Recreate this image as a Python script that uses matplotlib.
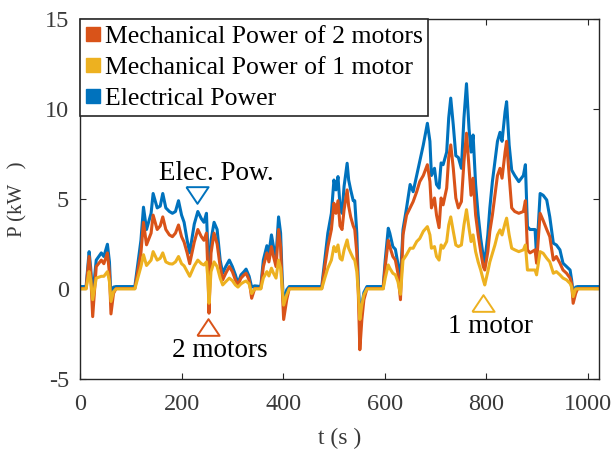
import matplotlib
matplotlib.use("Agg")
import matplotlib.pyplot as plt
from matplotlib.lines import Line2D

# ---------------- data ----------------
t_s = [0, 12, 18, 21, 25, 32, 42, 47, 54, 58,
       61, 66, 71, 108, 120, 125, 131, 140, 144, 152,
       158, 163, 169, 176, 182, 188, 194, 200, 205, 211,
       216, 225, 232, 239, 244, 249, 252, 254, 258, 264,
       270, 276, 281, 287, 294, 300, 306, 311, 317, 323,
       327, 333, 338, 344, 356, 361, 368, 372, 377, 381,
       386, 391, 395, 398, 401, 407, 412, 476, 482, 488,
       495, 500, 504, 508, 512, 516, 520, 526, 529, 533,
       538, 541, 545, 548, 551, 555, 559, 565, 597, 601,
       607, 610, 616, 621, 626, 631, 636, 643, 650, 656,
       663, 669, 676, 684, 689, 692, 698, 702, 707, 711,
       715, 722, 726, 730, 735, 740, 745, 751, 756, 761,
       766, 770, 774, 779, 784, 789, 794, 797, 803, 807,
       812, 817, 822, 827, 831, 837, 840, 845, 850, 856,
       864, 873, 877, 881, 886, 896, 899, 906, 912, 919,
       925, 932, 938, 945, 951, 958, 965, 968, 971, 976,
       980, 1020]

p_elec = [0.13, 0.13, 2.07, 1.2, -0.4, 1.6, 2.0, 1.8, 2.48, 1.5,
          -0.5, 0.1, 0.13, 0.13, 2.7, 4.54, 3.3, 4.2, 5.3, 4.5,
          4.6, 5.3, 4.5, 4.3, 4.2, 4.3, 4.9, 4.1, 3.7, 2.7,
          2.0, 3.6, 4.3, 3.9, 3.7, 4.2, 2.0, -0.2, 2.7, 3.7,
          3.3, 1.6, 0.87, 1.24, 1.6, 1.24, 0.78, 0.3, 0.78, 0.96,
          1.1, 0.7, 0.1, 0.17, 0.13, 1.6, 2.4, 2.0, 3.0, 2.35,
          1.8, 4.0, 3.1, 0.7, -0.9, -0.05, 0.13, 0.13, 1.6, 3.1,
          4.2, 6.05, 5.5, 6.24, 4.6, 4.2, 5.7, 6.98, 6.05, 5.5,
          4.9, 4.9, 3.1, 0.3, -1.3, -0.9, -0.2, 0.13, 0.13, 1.6,
          3.37, 3.1, 2.35, 2.2, 1.4, 0.6, 3.3, 4.5, 5.8, 5.4,
          6.3, 7.07, 8.0, 9.2, 8.2, 6.3, 6.7, 5.8, 5.6, 7.0,
          6.9, 7.6, 9.5, 10.6, 9.1, 7.4, 7.3, 6.7, 9.5, 11.4,
          8.9, 7.6, 8.55, 5.8, 4.1, 2.8, 1.8, 1.5, 3.0, 4.5,
          5.96, 7.07, 8.2, 8.7, 8.2, 9.85, 10.4, 8.0, 6.6, 6.3,
          5.96, 6.3, 6.9, 3.46, 3.3, 3.3, 1.8, 5.3, 5.2, 4.94,
          4.0, 2.54, 2.44, 2.17, 1.43, 1.24, 1.05, 0.5, -0.25, 0.1,
          0.13, 0.13]

p_mech2 = [0.02, 0.02, 1.8, 0.87, -1.54, 1.24, 1.6, 1.4, 2.0, 0.87,
           -1.39, -0.25, 0.02, 0.02, 2.0, 3.7, 2.45, 3.1, 4.1, 3.3,
           3.5, 4.0, 3.3, 3.0, 2.9, 3.1, 3.55, 2.9, 2.6, 2.0,
           1.4, 2.6, 3.3, 2.9, 2.7, 3.1, 0.87, -1.35, 2.0, 3.1,
           2.5, 1.24, 0.5, 0.87, 1.24, 0.96, 0.5, 0.22, 0.6, 0.78,
           0.87, 0.5, -0.52, 0.02, 0.02, 1.24, 2.0, 1.5, 2.35, 1.8,
           1.24, 3.3, 2.35, 0.13, -1.7, -0.6, 0.02, 0.02, 1.24, 2.35,
           3.3, 4.76, 4.2, 4.9, 3.5, 3.3, 4.4, 5.5, 4.6, 4.0,
           3.5, 3.3, 2.0, -0.25, -3.38, -1.7, -0.6, 0.02, 0.02, 1.24,
           2.7, 2.35, 1.8, 1.6, 0.87, -0.6, 3.0, 4.1, 4.5, 4.85,
           5.4, 5.96, 6.3, 6.9, 5.96, 4.5, 5.05, 4.1, 3.4, 5.05,
           4.67, 5.6, 7.3, 8.0, 6.7, 5.05, 4.5, 4.85, 7.07, 8.65,
           6.7, 5.2, 6.15, 4.1, 3.0, 2.07, 1.24, 1.05, 2.07, 3.2,
           4.1, 5.2, 6.3, 6.7, 6.15, 7.6, 8.2, 6.3, 4.5, 4.3,
           4.2, 4.3, 4.9, 2.17, 2.0, 2.17, 1.43, 4.2, 3.8, 3.3,
           2.9, 1.6, 1.8, 1.43, 1.05, 0.87, 0.6, 0.3, -0.8, -0.25,
           0.02, 0.02]

p_mech1 = [0.0, 0.0, 0.96, 0.5, -0.6, 0.6, 0.7, 0.7, 0.96, 0.4,
           -0.7, -0.15, 0.0, 0.0, 1.24, 1.9, 1.3, 1.6, 2.07, 1.6,
           1.7, 2.0, 1.5, 1.4, 1.38, 1.5, 1.8, 1.4, 1.28, 0.96,
           0.7, 1.28, 1.6, 1.4, 1.33, 1.5, 0.5, -0.8, 0.96, 1.5,
           1.24, 0.6, 0.22, 0.4, 0.6, 0.46, 0.22, 0.1, 0.28, 0.39,
           0.44, 0.28, -0.26, 0.0, 0.0, 0.6, 0.96, 0.72, 1.15, 0.87,
           0.6, 1.6, 1.15, 0.1, -0.9, -0.33, 0.0, 0.0, 0.6, 1.15,
           1.6, 2.35, 2.07, 2.44, 1.7, 1.6, 2.17, 2.72, 2.26, 2.0,
           1.7, 1.6, 0.96, -0.15, -1.7, -0.9, -0.33, 0.0, 0.0, 0.6,
           1.33, 1.15, 0.87, 0.78, 0.4, -0.3, 1.6, 1.9, 2.26, 2.26,
           2.63, 2.8, 3.2, 3.46, 3.0, 2.26, 2.35, 1.8, 1.6, 2.44,
           2.26, 2.63, 3.55, 4.0, 3.2, 2.44, 2.35, 2.44, 3.55, 4.4,
           3.37, 2.63, 3.0, 2.07, 1.5, 1.05, 0.5, 0.22, 0.96, 1.5,
           1.98, 2.44, 3.0, 3.28, 3.0, 3.65, 3.93, 3.0, 2.26, 2.17,
           2.07, 2.17, 2.44, 1.05, 1.05, 1.05, 0.78, 2.07, 1.98, 1.7,
           1.5, 0.87, 0.96, 0.78, 0.6, 0.5, 0.3, 0.1, -0.43, 0.0,
           0.0, 0.0]

series_labels = ["Mechanical Power of 2 motors",
                 "Mechanical Power of 1 motor",
                 "Electrical Power"]
x_ticks = [0, 200, 400, 600, 800, 1000]
y_ticks = [-5, 0, 5, 10, 15]

# annotation markers (t, P) and their labels (t, P of text baseline)
mark_elec = (231, 5.2)
mark_two = (252, -2.11)
mark_one = (794, -0.78)
txt_elec = ("Elec. Pow.", 269, 6.06)
txt_two = ("2 motors", 276, -3.78)
txt_one = ("1 motor", 809, -2.44)

# ---------------- style ----------------
C_BLUE = "#0072BD"
C_ORANGE = "#D95319"
C_YELLOW = "#EDB120"
C_AX = "#262626"
C_TXT = "#3a3a3a"

plt.rcParams["font.family"] = ["Liberation Serif", "DejaVu Serif"]

fig = plt.figure(figsize=(6.12, 4.5), dpi=100)
ax = fig.add_axes([0.1307, 0.158, 0.978 - 0.1307, 0.958 - 0.158])

lw = 2.2
ax.plot(t_s, p_elec, color=C_BLUE, lw=lw, solid_joinstyle="round")
ax.plot(t_s, p_mech2, color=C_ORANGE, lw=lw, solid_joinstyle="round")
ax.plot(t_s, p_mech1, color=C_YELLOW, lw=lw, solid_joinstyle="round")

ax.set_xlim(0, 1021)
ax.set_ylim(-5, 15)
ax.set_xticks(x_ticks)
ax.set_yticks(y_ticks)
ax.set_xticklabels([str(v) for v in x_ticks])
ax.set_yticklabels([str(v) for v in y_ticks])

for sp in ax.spines.values():
    sp.set_color(C_AX)
    sp.set_linewidth(1.0)
ax.tick_params(axis="both", direction="in", length=4, width=0.8,
               colors=C_AX, labelcolor=C_TXT, labelsize=17.5,
               top=True, right=True)
ax.tick_params(axis="x", pad=11)
ax.tick_params(axis="y", pad=8)

ax.set_xlabel("t (s )", fontsize=17, color=C_TXT, labelpad=9)
ax.set_ylabel("P (kW   )", fontsize=15, color=C_TXT, labelpad=12)

# annotations: open (flattened) triangles + labels
tri_up = [(-1.0, -0.75), (1.0, -0.75), (0.0, 0.75), (-1.0, -0.75)]
tri_dn = [(-1.0, 0.75), (1.0, 0.75), (0.0, -0.75), (-1.0, 0.75)]
ax.plot([mark_elec[0]], [mark_elec[1]], marker=tri_dn, ms=16, mfc="none",
        mec=C_BLUE, mew=1.4, ls="none")
ax.plot([mark_two[0]], [mark_two[1]], marker=tri_up, ms=16, mfc="none",
        mec=C_ORANGE, mew=1.4, ls="none")
ax.plot([mark_one[0]], [mark_one[1]], marker=tri_up, ms=16, mfc="none",
        mec=C_YELLOW, mew=1.4, ls="none")
for txt, tx, ty in (txt_elec, txt_two, txt_one):
    ax.text(tx, ty, txt, fontsize=19.5, ha="center", va="baseline",
            color="black")

# legend with square markers
handles = [Line2D([], [], ls="none", marker="s", ms=10, color=c, mec=c)
           for c in (C_ORANGE, C_YELLOW, C_BLUE)]
leg = ax.legend(handles, series_labels, loc="upper left",
                bbox_to_anchor=(0.0, 1.0), borderaxespad=0.0,
                fontsize=18.5, frameon=True, fancybox=False,
                edgecolor="#262626", framealpha=1.0, handlelength=0.6,
                handletextpad=0.15, borderpad=0.22, labelspacing=0.33)
leg.get_frame().set_linewidth(1.2)

fig.savefig("out.png", dpi=100)
